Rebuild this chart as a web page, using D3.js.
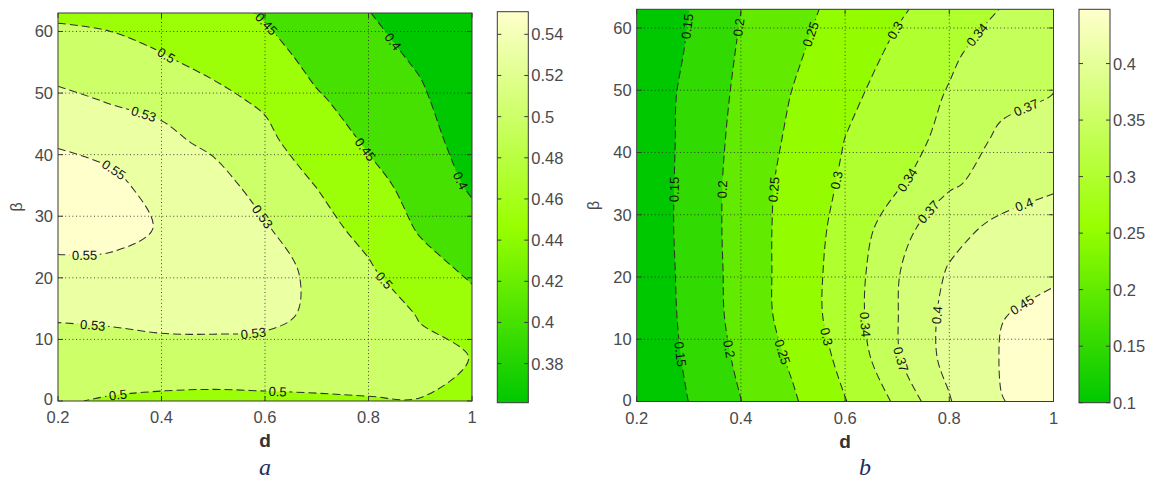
<!DOCTYPE html>
<html><head><meta charset="utf-8">
<script src="https://cdn.jsdelivr.net/npm/d3@7"></script>
<style>
body{margin:0;background:#fff}
text{font-family:"Liberation Sans",Arial,sans-serif}
</style>
</head><body>
<svg id="c" width="1156" height="480"></svg>
<script>
// ---------------- data ----------------
const dValues = [0.2, 0.3, 0.4, 0.5, 0.6, 0.7, 0.8, 0.9, 1.0];
const betaValues = [0, 7, 14, 21, 28, 35, 42, 49, 56, 63];

// panel a: rows = beta (0..63), columns = d (0.2..1.0)
const gridA = [
  [0.503, 0.497, 0.494, 0.493, 0.494, 0.496, 0.4985, 0.4995, 0.4995],
  [0.521, 0.522, 0.520, 0.519, 0.520, 0.518, 0.512, 0.506, 0.4996],
  [0.532, 0.533, 0.5375, 0.539, 0.536, 0.526, 0.513, 0.4985, 0.4685],
  [0.546, 0.546, 0.545, 0.545, 0.541, 0.524, 0.506, 0.470, 0.4426],
  [0.556, 0.555, 0.549, 0.546, 0.532, 0.515, 0.487, 0.445, 0.4167],
  [0.556, 0.553, 0.5455, 0.538, 0.522, 0.499, 0.4645, 0.4334, 0.393],
  [0.549, 0.546, 0.535, 0.526, 0.510, 0.477, 0.4447, 0.420, 0.378],
  [0.536, 0.528, 0.525, 0.509, 0.494, 0.455, 0.430, 0.4067, 0.370],
  [0.516, 0.511, 0.5015, 0.489, 0.468, 0.435, 0.415, 0.3933, 0.365],
  [0.495, 0.492, 0.484, 0.470, 0.445, 0.415, 0.401, 0.380, 0.361]
];
// panel b
const gridB = [
  [0.1017, 0.1505, 0.1993, 0.2442, 0.2983, 0.346, 0.3975, 0.4495, 0.456],
  [0.1048, 0.158, 0.2098, 0.258, 0.3137, 0.3673, 0.4099, 0.452, 0.458],
  [0.1077, 0.1626, 0.2176, 0.2705, 0.3225, 0.3691, 0.4096, 0.4492, 0.455],
  [0.1098, 0.1641, 0.2187, 0.2713, 0.321, 0.3678, 0.4027, 0.4248, 0.447],
  [0.1114, 0.1658, 0.2197, 0.2705, 0.3155, 0.359, 0.3882, 0.408, 0.4153],
  [0.1105, 0.1654, 0.2191, 0.2674, 0.3071, 0.3357, 0.366, 0.3818, 0.3953],
  [0.1098, 0.1641, 0.2153, 0.2596, 0.3007, 0.3244, 0.3506, 0.376, 0.3834],
  [0.1116, 0.1621, 0.2105, 0.2523, 0.2902, 0.3191, 0.343, 0.3625, 0.3705],
  [0.1026, 0.1553, 0.2056, 0.2426, 0.2772, 0.3084, 0.3339, 0.357, 0.3645],
  [0.0995, 0.1495, 0.1995, 0.2343, 0.2657, 0.2945, 0.3184, 0.3411, 0.3625]
];

const levelsA = [0.4, 0.45, 0.5, 0.53, 0.55];
const levelsB = [0.15, 0.2, 0.25, 0.3, 0.34, 0.37, 0.4, 0.45];
const colorDomainA = [0.361, 0.551];
const colorDomainB = [0.1, 0.448];
const cbarTicksA = [0.38, 0.4, 0.42, 0.44, 0.46, 0.48, 0.5, 0.52, 0.54];
const cbarTickLabelsA = ["0.38", "0.4", "0.42", "0.44", "0.46", "0.48", "0.5", "0.52", "0.54"];
const cbarTicksB = [0.1, 0.15, 0.2, 0.25, 0.3, 0.35, 0.4];
const cbarTickLabelsB = ["0.1", "0.15", "0.2", "0.25", "0.3", "0.35", "0.4"];
const xTicks = [0.2, 0.4, 0.6, 0.8, 1];
const xTickLabels = ["0.2", "0.4", "0.6", "0.8", "1"];
const yTicks = [0, 10, 20, 30, 40, 50, 60];
const betaMax = 63;

// contour label anchors: [level, d, beta]
const labelsA = [
  [0.45, 0.60, 61.1], [0.4, 0.851, 58.7], [0.5, 0.407, 55.9], [0.53, 0.364, 46],
  [0.45, 0.813, 42], [0.4, 0.973, 35.6], [0.55, 0.304, 37.1], [0.53, 0.60, 30.2],
  [0.5, 0.832, 19.7], [0.55, 0.252, 23.6], [0.53, 0.266, 11.5], [0.53, 0.577, 10.9],
  [0.5, 0.316, 0.9], [0.5, 0.625, 1.2]
];
const labelsB = [
  [0.15, 0.302, 60.2], [0.2, 0.407, 60], [0.25, 0.529, 59.1], [0.3, 0.69, 59.9],
  [0.34, 0.85, 59.1], [0.37, 0.936, 49.4], [0.4, 0.94, 32.5], [0.45, 0.936, 16],
  [0.15, 0.277, 34.1], [0.2, 0.366, 34.1], [0.25, 0.462, 34.1], [0.3, 0.577, 35.7],
  [0.34, 0.686, 37.3], [0.37, 0.744, 31.7],
  [0.15, 0.277, 7.5], [0.2, 0.369, 8.3], [0.25, 0.465, 7.5], [0.3, 0.556, 10.2],
  [0.34, 0.633, 12.3], [0.37, 0.705, 6.7], [0.4, 0.773, 13.9]
];

// ---------------- drawing ----------------
const cmap = d3.scaleLinear().domain([0, 0.45, 1])
  .range(["rgb(0,200,0)", "rgb(153,255,0)", "rgb(255,255,204)"]).clamp(true);

const svg = d3.select("#c");
const defs = svg.append("defs");
const lineGen = d3.line().curve(d3.curveCatmullRom.alpha(0.5));
const closedGen = d3.line().curve(d3.curveCatmullRomClosed.alpha(0.5));

function fmt(v){ return String(+v.toFixed(3)); }

function drawPanel(cfg) {
  const x = d3.scaleLinear().domain([dValues[0], dValues[dValues.length - 1]]).range(cfg.xr);
  const y = d3.scaleLinear().domain([0, betaMax]).range(cfg.yr);
  const nx = dValues.length, ny = betaValues.length;
  const values = cfg.grid.flat();
  const gx = d3.scaleLinear().domain([0.5, nx - 0.5]).range([dValues[0], dValues[nx - 1]]);
  const gy = d3.scaleLinear().domain([0.5, ny - 0.5]).range([betaValues[0], betaValues[ny - 1]]);
  const P = p => [x(gx(p[0])), y(gy(p[1]))];
  const color = v => cmap((v - cfg.cdom[0]) / (cfg.cdom[1] - cfg.cdom[0]));
  const isB = p => p[0] === 0 || p[0] === nx || p[1] === 0 || p[1] === ny;

  const X0 = cfg.xr[0], X1 = cfg.xr[1], Y0 = cfg.yr[1], Y1 = cfg.yr[0];
  const g = svg.append("g");
  defs.append("clipPath").attr("id", "clip" + cfg.id).append("rect")
    .attr("x", X0).attr("y", Y0).attr("width", X1 - X0).attr("height", Y1 - Y0);
  const plot = g.append("g").attr("clip-path", `url(#clip${cfg.id})`);

  plot.append("rect").attr("x", X0).attr("y", Y0).attr("width", X1 - X0).attr("height", Y1 - Y0)
    .attr("fill", color(cfg.cdom[0]));

  const contours = d3.contours().size([nx, ny]).thresholds(cfg.levels)(values);

  function splitRing(ring) {
    let pts = ring.slice(0, -1);
    const k = pts.findIndex(isB);
    if (k < 0) return { closed: true, pts };
    pts = pts.slice(k).concat(pts.slice(0, k));
    const segs = [];
    let i = 0;
    while (i < pts.length) {
      if (isB(pts[i])) { segs.push({ b: pts[i] }); i++; }
      else { const run = []; while (i < pts.length && !isB(pts[i])) run.push(pts[i++]); segs.push({ run }); }
    }
    return { closed: false, segs };
  }
  function curveStr(run) {
    if (run.length === 1) return "L" + run[0].join(",");
    return "L" + lineGen(run).slice(1).replace(/Z$/, "");
  }
  function ringD(ring) {
    const s = splitRing(ring);
    if (s.closed) return closedGen(s.pts.map(P));
    let d = "";
    s.segs.forEach((sg, idx) => {
      if (sg.b) { d += (idx === 0 ? "M" : "L") + P(sg.b).join(","); }
      else d += curveStr(sg.run.map(P));
    });
    return d + "Z";
  }

  // filled bands
  contours.forEach(c => {
    const d = c.coordinates.map(poly => poly.map(ringD).join("")).join("");
    if (d) plot.append("path").attr("d", d).attr("fill", color(c.value)).attr("fill-rule", "evenodd");
  });

  // grid (dotted)
  const gridG = plot.append("g").attr("stroke", "#2a2a2a").attr("stroke-width", 1)
    .attr("stroke-dasharray", "1,2.6").attr("opacity", 0.85);
  xTicks.filter(t => t > dValues[0] && t < dValues[nx - 1]).forEach(t =>
    gridG.append("line").attr("x1", x(t)).attr("x2", x(t)).attr("y1", Y1).attr("y2", Y0));
  yTicks.filter(t => t > 0 && t < betaMax).forEach(t =>
    gridG.append("line").attr("x1", X0).attr("x2", X1).attr("y1", y(t)).attr("y2", y(t)));

  // contour lines
  const maskId = "mask" + cfg.id;
  const mask = defs.append("mask").attr("id", maskId).attr("maskUnits", "userSpaceOnUse")
    .attr("x", 0).attr("y", 0).attr("width", 1156).attr("height", 480);
  mask.append("rect").attr("x", 0).attr("y", 0).attr("width", 1156).attr("height", 480).attr("fill", "#fff");
  const linesG = plot.append("g").attr("mask", `url(#${maskId})`)
    .attr("fill", "none").attr("stroke", "#303030").attr("stroke-width", 1.05).attr("stroke-dasharray", "8,4");
  const lineNodes = [];
  contours.forEach(c => {
    c.coordinates.forEach(poly => poly.forEach(ring => {
      const s = splitRing(ring);
      if (s.closed) {
        lineNodes.push({ level: c.value, node: linesG.append("path").attr("d", closedGen(s.pts.map(P))).node() });
      } else {
        s.segs.forEach(sg => {
          if (sg.run && sg.run.length >= 2)
            lineNodes.push({ level: c.value, node: linesG.append("path").attr("d", lineGen(sg.run.map(P))).node() });
        });
      }
    }));
  });

  // contour labels
  const labG = plot.append("g");
  cfg.labels.forEach(([lev, ld, lb]) => {
    const tx = x(ld), ty = y(lb);
    let best = null;
    lineNodes.filter(o => Math.abs(o.level - lev) < 1e-9).forEach(o => {
      const L = o.node.getTotalLength();
      for (let l = 0; l <= L; l += 1) {
        const p = o.node.getPointAtLength(l);
        const dd = (p.x - tx) ** 2 + (p.y - ty) ** 2;
        if (!best || dd < best.dd) best = { dd, l, p, node: o.node, L };
      }
    });
    if (!best) return;
    const a = best.node.getPointAtLength(Math.max(0, best.l - 5));
    const b = best.node.getPointAtLength(Math.min(best.L, best.l + 5));
    let ang = Math.atan2(b.y - a.y, b.x - a.x) * 180 / Math.PI;
    if (ang > 90) ang -= 180;
    if (ang <= -90) ang += 180;
    const t = labG.append("text").attr("x", 0).attr("y", 0)
      .attr("transform", `translate(${best.p.x},${best.p.y}) rotate(${ang})`)
      .attr("text-anchor", "middle").attr("dy", "0.36em")
      .attr("font-size", 13).attr("fill", "#111").text(fmt(lev));
    const w = t.node().getComputedTextLength() + 5;
    mask.append("rect").attr("x", -w / 2).attr("y", -6).attr("width", w).attr("height", 12)
      .attr("transform", `translate(${best.p.x},${best.p.y}) rotate(${ang})`).attr("fill", "#000");
  });

  // axes box and ticks
  const axG = g.append("g").attr("stroke", "#3a3a3a").attr("stroke-width", 1);
  axG.append("rect").attr("x", X0).attr("y", Y0).attr("width", X1 - X0).attr("height", Y1 - Y0).attr("fill", "none");
  xTicks.forEach(t => {
    axG.append("line").attr("x1", x(t)).attr("x2", x(t)).attr("y1", Y1).attr("y2", Y1 - 5);
    axG.append("line").attr("x1", x(t)).attr("x2", x(t)).attr("y1", Y0).attr("y2", Y0 + 5);
  });
  yTicks.forEach(t => {
    axG.append("line").attr("x1", X0).attr("x2", X0 + 5).attr("y1", y(t)).attr("y2", y(t));
    axG.append("line").attr("x1", X1).attr("x2", X1 - 5).attr("y1", y(t)).attr("y2", y(t));
  });
  const tickFont = 16.5;
  xTicks.forEach((t, i) => g.append("text").attr("x", x(t)).attr("y", Y1 + 22)
    .attr("text-anchor", "middle").attr("font-size", tickFont).attr("fill", "#4a4a4a").text(xTickLabels[i]));
  yTicks.forEach(t => g.append("text").attr("x", X0 - 5).attr("y", y(t) - (t === 0 ? 1.5 : 0)).attr("dy", "0.36em")
    .attr("text-anchor", "end").attr("font-size", tickFont).attr("fill", "#4a4a4a").text(t));

  // axis titles
  const cx = (X0 + X1) / 2;
  g.append("text").attr("x", cx).attr("y", Y1 + 46).attr("text-anchor", "middle")
    .attr("font-size", 19).attr("font-weight", "bold").attr("fill", "#333").text("d");
  g.append("text").attr("transform", `translate(${cfg.betaX},${(Y0 + Y1) / 2}) rotate(-90)`)
    .attr("text-anchor", "middle").attr("dy", "0.36em").attr("font-size", 16).attr("fill", "#4a4a4a").text("β");
  g.append("text").attr("x", cx + cfg.capDx).attr("y", 475).attr("text-anchor", "middle")
    .style("font-family", '"Liberation Serif","Times New Roman",serif').attr("font-style", "italic")
    .attr("font-size", 24).attr("fill", "#1c2f5e").text(cfg.caption);

  // colorbar
  const cb = cfg.cbar;
  const cy = d3.scaleLinear().domain(cfg.cdom).range([cb.y1, cb.y0]);
  const grad = defs.append("linearGradient").attr("id", "grad" + cfg.id)
    .attr("x1", 0).attr("y1", 1).attr("x2", 0).attr("y2", 0);
  d3.range(0, 1.0001, 0.05).forEach(t => grad.append("stop").attr("offset", t).attr("stop-color", cmap(t)));
  g.append("rect").attr("x", cb.x0).attr("y", cb.y0).attr("width", cb.x1 - cb.x0).attr("height", cb.y1 - cb.y0)
    .attr("fill", `url(#grad${cfg.id})`).attr("stroke", "#3a3a3a").attr("stroke-width", 1);
  cfg.cticks.forEach((t, i) => {
    g.append("line").attr("x1", cb.x0).attr("x2", cb.x0 + 4).attr("y1", cy(t)).attr("y2", cy(t)).attr("stroke", "#3a3a3a");
    g.append("line").attr("x1", cb.x1).attr("x2", cb.x1 - 4).attr("y1", cy(t)).attr("y2", cy(t)).attr("stroke", "#3a3a3a");
    g.append("text").attr("x", cb.x1 + 3).attr("y", cy(t)).attr("dy", "0.36em")
      .attr("font-size", tickFont).attr("fill", "#4a4a4a").text(cfg.ctickLabels[i]);
  });
}

drawPanel({
  id: "A", grid: gridA, levels: levelsA, cdom: colorDomainA, labels: labelsA,
  xr: [58, 472], yr: [401, 13], betaX: 16, caption: "a", capDx: 0,
  cbar: { x0: 497.3, x1: 528.3, y0: 11.7, y1: 402.7 }, cticks: cbarTicksA, ctickLabels: cbarTickLabelsA
});
drawPanel({
  id: "B", grid: gridB, levels: levelsB, cdom: colorDomainB, labels: labelsB,
  xr: [636.7, 1053.5], yr: [401.5, 9.3], betaX: 593, caption: "b", capDx: 20,
  cbar: { x0: 1079, x1: 1110, y0: 9.3, y1: 402.7 }, cticks: cbarTicksB, ctickLabels: cbarTickLabelsB
});
</script>
</body></html>
